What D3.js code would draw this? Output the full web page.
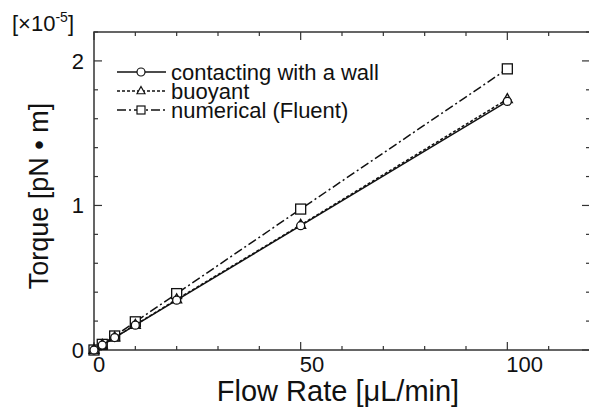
<!DOCTYPE html>
<html>
<head>
<meta charset="utf-8">
<script src="https://cdn.jsdelivr.net/npm/d3@7"></script>
<style>
  body { margin: 0; background: #fff; }
  text { font-family: "Liberation Sans", Arial, sans-serif; fill: #111; }
</style>
</head>
<body>
<div id="chart"></div>
<script>
// flow rate [uL/min] and torque [x1e-5 pN m]
var flowRates = [0, 2, 5, 10, 20, 50, 100];
var contacting = [0, 0.034, 0.086, 0.172, 0.345, 0.86, 1.72];
var buoyant = [0, 0.035, 0.087, 0.174, 0.35, 0.865, 1.735];
var numerical = [0, 0.039, 0.097, 0.195, 0.39, 0.975, 1.945];
var seriesNames = ["contacting with a wall", "buoyant", "numerical (Fluent)"];
var xTickLabels = [0, 50, 100];
var yTickLabels = [0, 1, 2];

var WIDTH = 589, HEIGHT = 412;
var plot = { left: 94, right: 590, top: 32, bottom: 350 };

var svg = d3.select("#chart").append("svg")
    .attr("width", WIDTH)
    .attr("height", HEIGHT);

var xScale = d3.scaleLinear().domain([0, 120]).range([plot.left, plot.right]);
var yScale = d3.scaleLinear().domain([0, 2.2]).range([plot.bottom, plot.top]);

var axisColor = "#333";

// frame
svg.append("rect")
    .attr("x", plot.left).attr("y", plot.top)
    .attr("width", plot.right - plot.left).attr("height", plot.bottom - plot.top)
    .attr("fill", "none")
    .attr("stroke", axisColor)
    .attr("stroke-width", 1.5);

// inward ticks on all four sides
var xMinor = d3.range(0, 121, 10);
var yMinor = d3.range(0, 2.21, 0.2);
function tickLen(v, major) { return Math.abs(v / major - Math.round(v / major)) < 1e-6 ? 8 : 4; }

var ticks = svg.append("g").attr("stroke", axisColor).attr("stroke-width", 1.2);
xMinor.forEach(function(v) {
    var len = tickLen(v, 50);
    ticks.append("line").attr("x1", xScale(v)).attr("x2", xScale(v))
        .attr("y1", plot.bottom).attr("y2", plot.bottom - len);
    ticks.append("line").attr("x1", xScale(v)).attr("x2", xScale(v))
        .attr("y1", plot.top).attr("y2", plot.top + len);
});
yMinor.forEach(function(v) {
    var len = tickLen(v, 1);
    ticks.append("line").attr("y1", yScale(v)).attr("y2", yScale(v))
        .attr("x1", plot.left).attr("x2", plot.left + len);
    ticks.append("line").attr("y1", yScale(v)).attr("y2", yScale(v))
        .attr("x1", plot.right).attr("x2", plot.right - len);
});

// tick labels
svg.selectAll(".xlab").data(xTickLabels).enter().append("text")
    .attr("class", "xlab")
    .attr("x", function(d) { return xScale(d) - 1; })
    .attr("y", plot.bottom + 22)
    .attr("font-size", 22)
    .text(function(d) { return d; });

svg.selectAll(".ylab").data(yTickLabels).enter().append("text")
    .attr("class", "ylab")
    .attr("x", plot.left - 10)
    .attr("y", function(d) { return yScale(d); })
    .attr("dy", "0.35em")
    .attr("text-anchor", "end")
    .attr("font-size", 22)
    .text(function(d) { return d; });

// exponent label
var expo = svg.append("text").attr("x", 12).attr("y", 31).attr("font-size", 22);
expo.append("tspan").text("[\u00d710");
expo.append("tspan").attr("font-size", 14).attr("dy", -9).text("-5");
expo.append("tspan").attr("dy", 9).text("]");

// axis titles
svg.append("text")
    .attr("x", 338)
    .attr("y", 401)
    .attr("text-anchor", "middle")
    .attr("font-size", 29)
    .text("Flow Rate [\u03bcL/min]");

svg.append("text")
    .attr("transform", "translate(48,196) rotate(-90)")
    .attr("text-anchor", "middle")
    .attr("font-size", 27)
    .text("Torque [pN \u2022 m]");

// series
var series = [
    { name: seriesNames[0], values: contacting, dash: null, marker: "circle" },
    { name: seriesNames[1], values: buoyant, dash: "3,2", marker: "triangle" },
    { name: seriesNames[2], values: numerical, dash: "9,3,2,3", marker: "square" }
];

var line = d3.line()
    .x(function(d) { return xScale(d[0]); })
    .y(function(d) { return yScale(d[1]); });

function drawMarker(g, type, x, y, s) {
    if (type === "circle") {
        g.append("circle").attr("cx", x).attr("cy", y).attr("r", s / 2);
    } else if (type === "triangle") {
        var h = s * 0.9;
        g.append("path").attr("d", "M" + x + "," + (y - h * 0.62) + "L" + (x + s / 2) + "," + (y + h * 0.38) +
            "L" + (x - s / 2) + "," + (y + h * 0.38) + "Z");
    } else {
        g.append("rect").attr("x", x - s / 2).attr("y", y - s / 2).attr("width", s).attr("height", s);
    }
}

series.slice().reverse().forEach(function(s) {
    var pts = flowRates.map(function(f, i) { return [f, s.values[i]]; });
    svg.append("path")
        .datum(pts)
        .attr("d", line)
        .attr("fill", "none")
        .attr("stroke", "#111")
        .attr("stroke-width", 1.5)
        .attr("stroke-dasharray", s.dash);
    var mg = svg.append("g").attr("fill", "#fff").attr("stroke", "#111").attr("stroke-width", 1.3);
    pts.forEach(function(p) {
        drawMarker(mg, s.marker, xScale(p[0]), yScale(p[1]), s.marker === "circle" ? 8 : 10);
    });
});

// legend
var legend = svg.append("g");
series.forEach(function(s, i) {
    var y = 72 + i * 19;
    legend.append("line")
        .attr("x1", 117).attr("x2", 166)
        .attr("y1", y).attr("y2", y)
        .attr("stroke", "#111")
        .attr("stroke-width", 1.5)
        .attr("stroke-dasharray", s.dash);
    var mg = legend.append("g").attr("fill", "#fff").attr("stroke", "#111").attr("stroke-width", 1.2);
    drawMarker(mg, s.marker, 141, y, 8);
    legend.append("text")
        .attr("x", 171).attr("y", y)
        .attr("dy", "0.36em")
        .attr("font-size", 22)
        .text(s.name);
});
</script>
</body>
</html>
